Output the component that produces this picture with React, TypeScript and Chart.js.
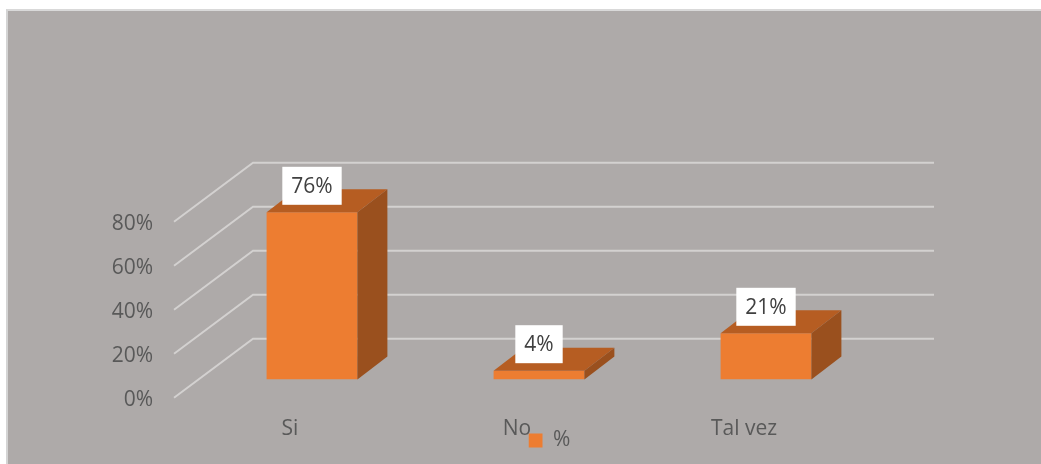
import React, { useEffect, useRef } from "react";
import { Chart, registerables } from "chart.js";

Chart.register(...registerables);

const categories = ["Si", "No", "Tal vez"];
const seriesLabel = "%";
const values = [76, 4, 21];
const yMin = 0;
const yMax = 80;
const yStep = 20;

const FONT = "'Open Sans', 'DejaVu Sans', sans-serif";
const TEXT = "#595959";
const FRONT = "#ED7D31";
const TOP = "#B65D22";
const SIDE = "#9A501E";
const GRID = "#D3D1D0";

// floor depth vector and the bar depth vector (layout only)
const FLOOR = { x: 79, y: -59 };
const FRONT_FRAC = 0.31;
const BACK_FRAC = 0.69;
const BAR_D = { x: 30, y: -23 };

const gridPlugin = {
  id: "grid3d",
  beforeDatasetsDraw(chart: any) {
    const { ctx, chartArea } = chart;
    const y = chart.scales.y;
    ctx.save();
    ctx.strokeStyle = GRID;
    ctx.lineWidth = 2;
    for (const t of y.ticks) {
      const yb = y.getPixelForValue(t.value);
      const x0 = chartArea.left - FLOOR.x * FRONT_FRAC;
      const y0 = yb - FLOOR.y * FRONT_FRAC;
      const x1 = chartArea.left + FLOOR.x * BACK_FRAC;
      const y1 = yb + FLOOR.y * BACK_FRAC;
      const x2 = chartArea.right + FLOOR.x * BACK_FRAC;
      ctx.beginPath();
      ctx.moveTo(x0, y0);
      ctx.lineTo(x1, y1);
      ctx.lineTo(x2, y1);
      ctx.stroke();
    }
    ctx.restore();
  },
};

const barFacesPlugin = {
  id: "bar3d",
  afterDatasetsDraw(chart: any) {
    const { ctx } = chart;
    const meta = chart.getDatasetMeta(0);
    ctx.save();
    meta.data.forEach((bar: any) => {
      const { x, y, base, width } = bar.getProps(["x", "y", "base", "width"], true);
      const l = x - width / 2;
      const r = x + width / 2;
      ctx.fillStyle = TOP;
      ctx.beginPath();
      ctx.moveTo(l, y);
      ctx.lineTo(r, y);
      ctx.lineTo(r + BAR_D.x, y + BAR_D.y);
      ctx.lineTo(l + BAR_D.x, y + BAR_D.y);
      ctx.closePath();
      ctx.fill();
      ctx.fillStyle = SIDE;
      ctx.beginPath();
      ctx.moveTo(r, y);
      ctx.lineTo(r + BAR_D.x, y + BAR_D.y);
      ctx.lineTo(r + BAR_D.x, base + BAR_D.y);
      ctx.lineTo(r, base);
      ctx.closePath();
      ctx.fill();
    });
    ctx.restore();
  },
  afterDraw(chart: any) {
    const { ctx } = chart;
    const meta = chart.getDatasetMeta(0);
    const data = chart.data.datasets[0].data;
    ctx.save();
    ctx.font = `21px ${FONT}`;
    ctx.textAlign = "center";
    ctx.textBaseline = "middle";
    meta.data.forEach((bar: any, i: number) => {
      const { x, y } = bar.getProps(["x", "y"], true);
      const txt = `${data[i]}%`;
      const w = ctx.measureText(txt).width + 18;
      const h = 38;
      const cy = y - 26.5;
      ctx.fillStyle = "#FFFFFF";
      ctx.fillRect(x - w / 2, cy - h / 2, w, h);
      ctx.fillStyle = "#404040";
      ctx.fillText(txt, x, cy + 1);
    });
    ctx.restore();
  },
};

const legendPlacePlugin = {
  id: "legendPlace",
  afterLayout(chart: any) {
    const lg = chart.legend;
    if (!lg) return;
    const h = lg.height;
    const w = lg.width;
    lg.top = 419;
    lg.bottom = 419 + h;
    lg.left = 520.5;
    lg.right = 520.5 + w;
  },
};

export default function App() {
  const ref = useRef<HTMLCanvasElement>(null);

  useEffect(() => {
    if (!ref.current) return;
    const chart = new Chart(ref.current, {
      type: "bar",
      data: {
        labels: categories,
        datasets: [
          {
            label: seriesLabel,
            data: values,
            backgroundColor: FRONT,
            borderWidth: 0,
            barPercentage: 0.4,
            categoryPercentage: 1,
          },
        ],
      },
      options: {
        responsive: false,
        animation: false,
        events: [],
        layout: { padding: { left: 0, right: 161.5, top: 161.5, bottom: 22.3 } },
        plugins: {
          tooltip: { enabled: false },
          title: { display: false },
          legend: {
            display: true,
            position: "top",
            align: "start",
            labels: {
              boxWidth: 14,
              boxHeight: 14,
              padding: 0,
              color: TEXT,
              font: { family: FONT, size: 21 },
            },
          },
        },
        scales: {
          x: {
            grid: { display: false, drawTicks: false },
            border: { display: false },
            afterFit: (scale: any) => {
              scale.height = 62.2;
            },
            ticks: {
              color: TEXT,
              font: { family: FONT, size: 21 },
              padding: 37,
              labelOffset: -22,
              maxRotation: 0,
            },
          },
          y: {
            min: yMin,
            max: yMax,
            grid: { display: false, drawTicks: false },
            border: { display: false },
            afterFit: (scale: any) => {
              scale.width = 190.5;
            },
            ticks: {
              stepSize: yStep,
              color: TEXT,
              font: { family: FONT, size: 21 },
              padding: 45.5,
              labelOffset: 21,
              callback: (v: any) => `${v}%`,
            },
          },
        },
      },
      plugins: [gridPlugin, barFacesPlugin, legendPlacePlugin],
    });
    return () => chart.destroy();
  }, []);

  return (
    <div
      style={{
        position: "absolute",
        left: 6,
        top: 9,
        width: 1035,
        height: 455,
        boxSizing: "border-box",
        borderLeft: "2px solid #D4D4D4",
        borderTop: "2px solid #D9D9D9",
        background: "#AEAAA9",
        overflow: "hidden",
      }}
    >
      <canvas ref={ref} width={1033} height={453} style={{ display: "block" }} />
    </div>
  );
}
